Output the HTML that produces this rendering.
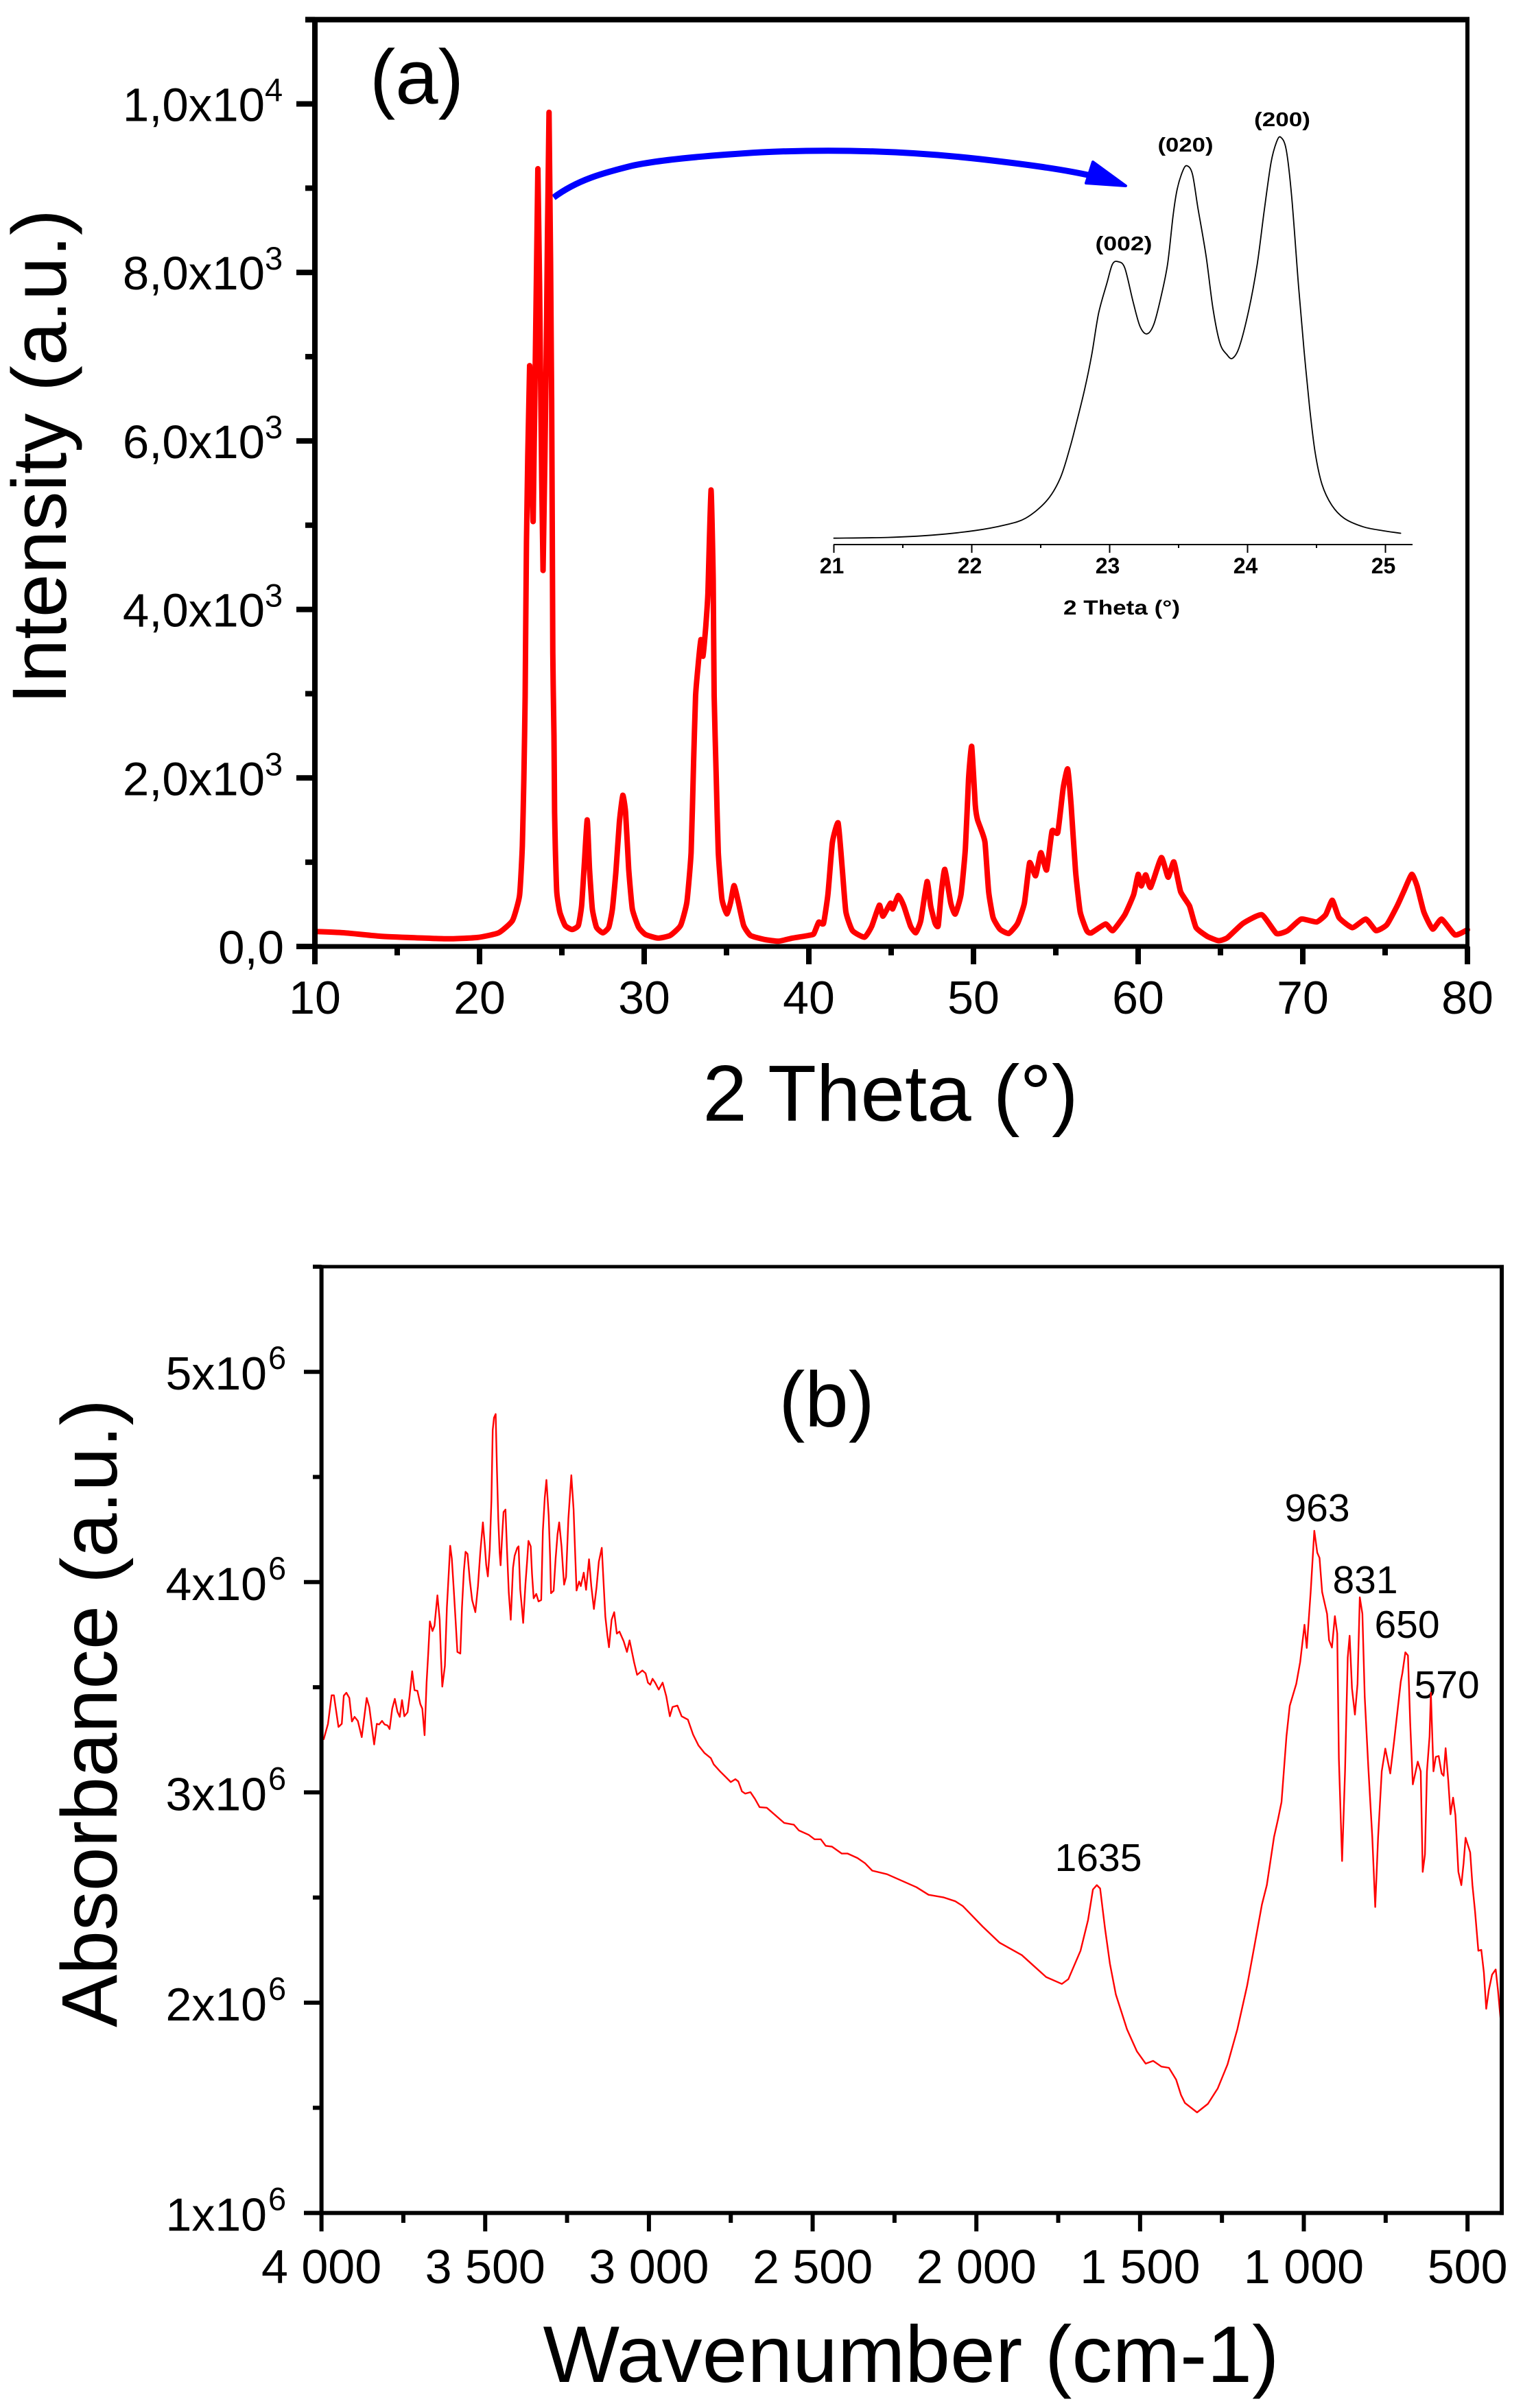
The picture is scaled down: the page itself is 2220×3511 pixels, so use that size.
<!DOCTYPE html>
<html lang="en">
<head>
<meta charset="utf-8">
<title>XRD and FTIR spectra</title>
<style>
html,body{margin:0;padding:0;background:#fff;}
svg{display:block;}
text{font-family:"Liberation Sans",sans-serif;fill:#000;}
</style>
</head>
<body>
<svg id="figure" xmlns="http://www.w3.org/2000/svg" width="2220" height="3511" viewBox="0 0 2220 3511">
  <rect x="0" y="0" width="2220" height="3511" fill="#fff"/>
  <g id="panel-a">
    <text x="539" y="151" font-size="112">(a)</text>
    <text transform="translate(96,1027) rotate(-90)" font-size="112" textLength="722" lengthAdjust="spacingAndGlyphs">Intensity (a.u.)</text>
    <text x="1298" y="1634" font-size="116" text-anchor="middle">2 Theta (°)</text>
    <path d="M807 288 C 842 262, 880 252, 920 242 C 960 233, 1026 227, 1110 222 C 1216 217, 1322 220, 1429 232 C 1490 239, 1545 246, 1590 256" fill="none" stroke="#0000ff" stroke-width="9"/>
    <path d="M1593 236 L1641 271 L1583 267 Z" fill="#0000ff" stroke="#0000ff" stroke-width="4" stroke-linejoin="round"/>
    <text x="1638" y="365" font-size="29" font-weight="bold" text-anchor="middle" textLength="83" lengthAdjust="spacingAndGlyphs">(002)</text>
    <text x="1728" y="221" font-size="29" font-weight="bold" text-anchor="middle" textLength="81" lengthAdjust="spacingAndGlyphs">(020)</text>
    <text x="1869" y="184" font-size="29" font-weight="bold" text-anchor="middle" textLength="82" lengthAdjust="spacingAndGlyphs">(200)</text>
    <text x="1635" y="896" font-size="30" font-weight="bold" text-anchor="middle" textLength="170" lengthAdjust="spacingAndGlyphs">2 Theta (°)</text>
  </g>
  <g id="panel-b">
    <text x="1205" y="2080" font-size="114" text-anchor="middle">(b)</text>
    <text transform="translate(170,2956) rotate(-90)" font-size="115" textLength="916" lengthAdjust="spacingAndGlyphs">Absorbance (a.u.)</text>
    <text x="1328" y="3473" font-size="117" text-anchor="middle" textLength="1073" lengthAdjust="spacingAndGlyphs">Wavenumber (cm-1)</text>
    <text x="1601" y="2728" font-size="57" text-anchor="middle">1635</text>
    <text x="1920" y="2218" font-size="57" text-anchor="middle">963</text>
    <text x="1990" y="2323" font-size="57" text-anchor="middle">831</text>
    <text x="2051" y="2388" font-size="57" text-anchor="middle">650</text>
    <text x="2109" y="2476" font-size="57" text-anchor="middle">570</text>
  </g>
</svg>
<script>
// Panel (a): XRD pattern
const xrdTheta = [10,11.8,13.93,16.06,18.18,19.88,21.16,22,22.43,22.6,22.69,22.77,22.85,23.04,23.26,23.54,23.72,23.86,24.05,24.22,24.38,24.45,24.52,24.56,24.6,24.69,24.88,25.2,25.62,26,26.2,26.37,26.54,26.68,26.85,27.1,27.49,27.85,28.07,28.28,28.49,28.7,28.87,29.06,29.28,29.66,30.08,30.83,31.57,32.21,32.59,32.85,33,33.12,33.27,33.44,33.57,33.74,33.87,34.06,34.19,34.25,34.38,34.5,34.72,35.02,35.25,35.46,35.72,36.04,36.46,37.3,38.16,39,39.97,40.3,40.6,40.89,41.16,41.43,41.78,42.03,42.25,42.65,43.38,43.82,44.28,44.5,44.96,45.09,45.44,45.77,46.18,46.5,46.8,47.18,47.4,47.67,47.86,48.05,48.26,48.62,48.89,49.24,49.51,49.7,49.89,50.11,50.24,50.43,50.7,50.92,51.19,51.6,52.14,52.68,53.09,53.41,53.77,54.09,54.44,54.77,55.12,55.45,55.72,55.93,56.2,56.48,56.88,57.15,58.02,58.46,59.19,59.73,60,60.19,60.46,60.76,61.41,61.82,62.17,62.58,63.12,63.52,64.2,64.88,65.42,66.37,67.51,68.4,69.08,69.9,70.84,71.39,71.79,72.2,73.01,73.83,74.45,75.1,75.73,76.13,76.62,76.94,77.35,77.89,78.43,79.25,80];
const xrdIntensity = [178,162,122,103,91,107,162,308,604,1196,1985,2971,4800,6894,5055,9227,6500,4463,7000,9900,6500,3484,2498,1590,1196,643,406,249,201,249,485,998,1503,919,446,229,162,229,446,880,1472,1795,1590,919,446,229,142,99,130,249,525,1117,2182,2971,3326,3642,3445,3800,4195,5418,4352,2971,1985,1117,564,387,525,722,525,249,130,83,63,99,130,150,288,274,617,1233,1466,925,411,188,110,240,490,360,514,445,606,480,240,164,308,771,480,274,247,651,915,514,384,617,1165,1987,2374,1679,1507,1405,1233,651,343,206,154,274,514,994,839,1113,908,1370,1353,1884,2107,1679,891,411,188,161,267,188,377,617,856,719,850,702,1055,822,1004,651,480,223,120,69,103,274,377,154,188,325,291,377,548,343,223,325,188,257,480,651,856,719,411,206,325,137,199];
const xrdMajorX = [10,20,30,40,50,60,70,80];
const xrdMinorX = [15,25,35,45,55,65,75];
const xrdMajorY = [0,2000,4000,6000,8000,10000];
const xrdMinorY = [1000,3000,5000,7000,9000,11000];
const xrdYText = ["0,0","2,0x10","4,0x10","6,0x10","8,0x10","1,0x10"];
const xrdYExp = ["","3","3","3","3","4"];

// Panel (a) inset: zoom on the triple peak
const insetTheta = [21,21.39,21.71,22.02,22.24,22.39,22.54,22.64,22.71,22.76,22.82,22.87,22.92,22.98,23.02,23.06,23.11,23.17,23.22,23.27,23.32,23.37,23.42,23.46,23.49,23.53,23.56,23.6,23.64,23.7,23.75,23.8,23.85,23.89,23.94,24.01,24.07,24.12,24.17,24.21,24.24,24.28,24.32,24.37,24.41,24.45,24.49,24.54,24.61,24.7,24.84,24.98,25.11];
const insetIntensity = [17,19,25,37,52,70,115,175,255,325,415,505,615,695,745,752,735,645,580,560,585,655,745,875,945,993,1007,985,895,765,625,535,505,495,525,625,745,885,1015,1070,1083,1050,925,685,515,365,245,160,105,70,47,37,30];
const insetMajorX = [21,22,23,24,25];
const insetMinorX = [21.5,22.5,23.5,24.5];

// Panel (b): FTIR spectrum (absorbance in units of 10^6)
const irWavenumber = [3993,3980,3969,3962,3948,3938,3932,3924,3915,3907,3899,3889,3877,3862,3854,3839,3831,3824,3815,3807,3798,3792,3784,3776,3768,3761,3754,3747,3737,3731,3723,3716,3707,3698,3692,3685,3679,3674,3669,3661,3655,3646,3639,3635,3631,3623,3617,3611,3607,3602,3596,3590,3585,3576,3571,3565,3560,3554,3547,3540,3530,3522,3515,3507,3501,3497,3492,3486,3481,3477,3473,3468,3464,3460,3456,3453,3448,3444,3438,3433,3428,3422,3415,3410,3402,3398,3393,3388,3384,3377,3372,3368,3361,3357,3352,3344,3337,3329,3324,3318,3313,3306,3302,3299,3291,3285,3279,3274,3267,3262,3259,3253,3246,3241,3237,3230,3225,3221,3213,3208,3199,3192,3183,3176,3168,3160,3153,3144,3139,3133,3127,3122,3114,3106,3098,3090,3077,3067,3059,3045,3036,3020,3010,3003,2996,2989,2981,2970,2958,2947,2936,2928,2913,2900,2881,2865,2849,2830,2811,2802,2783,2764,2750,2736,2727,2716,2706,2690,2676,2662,2640,2587,2557,2542,2512,2494,2475,2460,2441,2411,2393,2363,2340,2318,2273,2228,2183,2146,2101,2064,2041,1981,1929,1861,1824,1787,1739,1719,1682,1659,1644,1632,1622,1607,1592,1574,1540,1510,1483,1460,1435,1412,1390,1375,1363,1326,1293,1263,1233,1203,1173,1151,1128,1113,1091,1079,1068,1053,1043,1023,1011,998,991,979,968,959,952,944,929,923,914,905,898,893,883,874,866,860,853,844,836,829,821,814,803,791,782,773,762,751,736,724,704,699,690,682,675,667,652,643,637,630,624,616,612,604,597,588,579,573,567,559,552,544,537,528,519,512,506,492,485,477,467,458,450,443,435,425,414,407,398];
const irAbsorbance = [3.253,3.326,3.462,3.462,3.311,3.326,3.46,3.474,3.449,3.337,3.359,3.34,3.263,3.449,3.406,3.228,3.326,3.323,3.34,3.323,3.318,3.301,3.398,3.445,3.384,3.359,3.439,3.362,3.381,3.457,3.576,3.486,3.483,3.42,3.398,3.272,3.522,3.66,3.813,3.767,3.792,3.937,3.821,3.646,3.503,3.602,3.879,4.054,4.173,4.112,3.966,3.806,3.668,3.66,3.879,4.054,4.144,4.134,4.01,3.915,3.857,3.981,4.141,4.284,4.17,4.083,4.027,4.156,4.388,4.723,4.782,4.799,4.534,4.301,4.141,4.08,4.228,4.333,4.345,4.141,3.952,3.821,4.068,4.126,4.163,4.17,3.966,3.879,3.806,3.995,4.097,4.196,4.17,4.039,3.923,3.944,3.908,3.915,4.243,4.403,4.486,4.316,4.126,3.947,3.959,4.112,4.228,4.284,4.17,4.054,3.988,4.024,4.301,4.418,4.508,4.345,4.126,3.96,4.003,3.981,4.045,3.963,4.109,3.981,3.872,3.974,4.097,4.163,4.01,3.835,3.748,3.69,3.821,3.857,3.755,3.765,3.719,3.668,3.723,3.617,3.559,3.58,3.566,3.522,3.512,3.54,3.522,3.489,3.522,3.457,3.362,3.406,3.413,3.362,3.346,3.275,3.224,3.187,3.163,3.133,3.1,3.071,3.049,3.063,3.052,3.005,2.994,3.001,2.969,2.93,2.927,2.855,2.846,2.819,2.798,2.777,2.777,2.746,2.742,2.709,2.709,2.688,2.663,2.628,2.611,2.58,2.549,2.513,2.501,2.482,2.459,2.362,2.285,2.226,2.174,2.122,2.089,2.112,2.247,2.393,2.538,2.559,2.543,2.351,2.185,2.039,1.873,1.769,1.71,1.723,1.696,1.69,1.634,1.561,1.523,1.478,1.519,1.592,1.706,1.873,2.081,2.268,2.466,2.559,2.788,2.871,2.954,3.266,3.412,3.516,3.62,3.797,3.687,3.953,4.244,4.14,4.115,3.953,3.849,3.724,3.689,3.838,3.755,3.162,2.674,3.1,3.641,3.745,3.495,3.37,3.516,3.928,3.849,3.454,3.121,2.788,2.455,2.788,3.1,3.208,3.09,3.246,3.526,3.568,3.666,3.651,3.329,3.038,3.146,3.1,2.622,2.705,3.1,3.266,3.474,3.1,3.169,3.173,3.09,3.079,3.21,3.058,2.896,2.975,2.892,2.622,2.559,2.663,2.784,2.715,2.559,2.434,2.247,2.251,2.143,1.971,2.06,2.133,2.158,2.06,1.904];
const irMajorX = [4000,3500,3000,2500,2000,1500,1000,500];
const irMinorX = [3750,3250,2750,2250,1750,1250,750];
const irXText = ["4 000","3 500","3 000","2 500","2 000","1 500","1 000","500"];
const irMajorY = [1,2,3,4,5];
const irMinorY = [1.5,2.5,3.5,4.5,5.5];
const irYText = ["1x10","2x10","3x10","4x10","5x10"];
const irYExp = ["6","6","6","6","6"];

const NS = 'http://www.w3.org/2000/svg';
const panelA = document.getElementById('panel-a');
const panelB = document.getElementById('panel-b');

// Axis functions
const xA = v => 459 + (v - 10) * 24;
const yA = v => 1380 - v * 0.12285;
const xI = v => 1215.5 + (v - 21) * 201;
const yI = v => 794 - v / 1.823;
const xB = v => 468.6 + (4000 - v) * 0.4773;
const yB = v => 3226.6 - (v - 1) * 306.6;

function drawLine(parent, x1, y1, x2, y2, width) {
  const el = document.createElementNS(NS, 'line');
  el.setAttribute('x1', x1);
  el.setAttribute('y1', y1);
  el.setAttribute('x2', x2);
  el.setAttribute('y2', y2);
  el.setAttribute('stroke', '#000');
  el.setAttribute('stroke-width', width);
  parent.appendChild(el);
  return el;
}
function drawLabel(parent, str, x, y, size, anchor, weight) {
  const el = document.createElementNS(NS, 'text');
  el.setAttribute('x', x);
  el.setAttribute('y', y);
  el.setAttribute('font-size', size);
  el.setAttribute('text-anchor', anchor);
  if (weight) el.setAttribute('font-weight', weight);
  el.textContent = str;
  parent.appendChild(el);
  return el;
}
// smooth > 0 rounds the corners between data points (Catmull-Rom style)
function drawSeries(parent, xs, ys, fx, fy, color, width, smooth) {
  const el = document.createElementNS(NS, 'path');
  const px = xs.map(fx);
  const py = ys.map(fy);
  let d = 'M' + px[0].toFixed(1) + ' ' + py[0].toFixed(1);
  for (let i = 1; i < px.length; i++) {
    if (smooth) {
      const p0 = Math.max(i - 2, 0);
      const p3 = Math.min(i + 1, px.length - 1);
      const c1x = px[i - 1] + (px[i] - px[p0]) * smooth;
      const c1y = py[i - 1] + (py[i] - py[p0]) * smooth;
      const c2x = px[i] - (px[p3] - px[i - 1]) * smooth;
      const c2y = py[i] - (py[p3] - py[i - 1]) * smooth;
      d += 'C' + c1x.toFixed(1) + ' ' + c1y.toFixed(1) + ' ' + c2x.toFixed(1) + ' ' + c2y.toFixed(1) + ' ' + px[i].toFixed(1) + ' ' + py[i].toFixed(1);
    } else {
      d += 'L' + px[i].toFixed(1) + ' ' + py[i].toFixed(1);
    }
  }
  el.setAttribute('d', d);
  el.setAttribute('fill', 'none');
  el.setAttribute('stroke', color);
  el.setAttribute('stroke-width', width);
  el.setAttribute('stroke-linejoin', 'round');
  el.setAttribute('stroke-linecap', 'round');
  parent.appendChild(el);
  return el;
}

// ---- Panel (a) ----
const xrdLine = drawSeries(panelA, xrdTheta, xrdIntensity, xA, yA, '#ff0000', 8, 0.08);



const aLeft = drawLine(panelA, xA(10), 25.5, xA(10), 1383.5, 8);


const aRight = drawLine(panelA, xA(80), 25.5, xA(80), 1383.5, 6);


const aTop = drawLine(panelA, 445, yA(11000), 2142, yA(11000), 8);


const aBottom = drawLine(panelA, 432, yA(0), 2142, yA(0), 7);



xrdMajorX.forEach(v => {
  const t = drawLine(panelA, xA(v), yA(0), xA(v), 1406, 8);
  
  
  const l = drawLabel(panelA, String(v), xA(v), 1478, 68, 'middle');
  
  
});
xrdMinorX.forEach(v => {
  const t = drawLine(panelA, xA(v), yA(0), xA(v), 1393, 8);
  
  
});
xrdMajorY.forEach((v, i) => {
  const t = drawLine(panelA, 432, yA(v), xA(10), yA(v), 8);
  
  
  const hasExp = xrdYExp[i] !== '';
  const l = drawLabel(panelA, xrdYText[i], hasExp ? 386 : 414, yA(v) + 25, 69, 'end');
  
  
  if (hasExp) {
    const s = drawLabel(panelA, xrdYExp[i], 386, yA(v) - 4, 47, 'start');
    
    
  }
});
xrdMinorY.forEach(v => {
  const t = drawLine(panelA, 445, yA(v), xA(10), yA(v), 8);
  
  
});

// Inset
const insetLine = drawSeries(panelA, insetTheta, insetIntensity, xI, yI, '#000', 1.8, 0.16);


const insetAxis = drawLine(panelA, 1215, 794, 2059, 794, 2);


insetMajorX.forEach(v => {
  const t = drawLine(panelA, xI(v), 794, xI(v), 806, 2);
  
  
  const l = drawLabel(panelA, String(v), xI(v) - 3, 836, 32, 'middle', 'bold');
  
  
});
insetMinorX.forEach(v => {
  const t = drawLine(panelA, xI(v), 794, xI(v), 799, 2);
  
  
});

// ---- Panel (b) ----
const irLine = drawSeries(panelB, irWavenumber, irAbsorbance, xB, yB, '#ff0000', 2.4);



const bLeft = drawLine(panelB, 468.6, yB(5.5) - 2.5, 468.6, 3229.6, 6);


const bRight = drawLine(panelB, 2189, yB(5.5) - 2.5, 2189, 3229.6, 6);


const bTop = drawLine(panelB, 456, yB(5.5), 2192, yB(5.5), 5);


const bBottom = drawLine(panelB, 443, yB(1), 2192, yB(1), 6);



irMajorX.forEach((v, i) => {
  const t = drawLine(panelB, xB(v), yB(1), xB(v), 3253.5, 6);
  
  
  const l = drawLabel(panelB, irXText[i], xB(v), 3329, 70, 'middle');
  
  
});
irMinorX.forEach(v => {
  const t = drawLine(panelB, xB(v), yB(1), xB(v), 3241, 6);
  
  
});
irMajorY.forEach((v, i) => {
  const t = drawLine(panelB, 443, yB(v), 468.6, yB(v), 6);
  
  
  const l = drawLabel(panelB, irYText[i], 389, yB(v) + 26, 68, 'end');
  
  
  const s = drawLabel(panelB, irYExp[i], 391, yB(v) - 4, 47, 'start');
  
  
});
irMinorY.forEach(v => {
  const t = drawLine(panelB, 456, yB(v), 468.6, yB(v), 6);
  
  
});
</script>
</body>
</html>
